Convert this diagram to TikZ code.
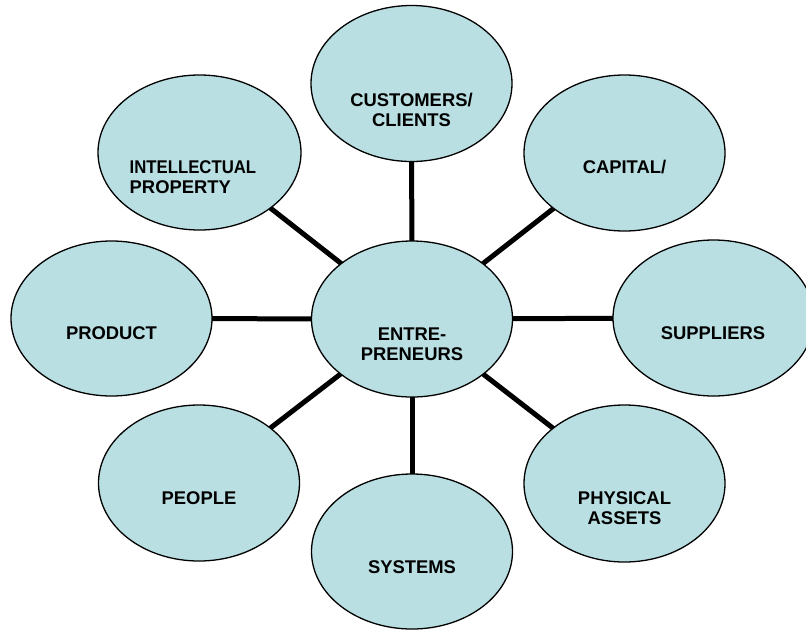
\documentclass[tikz,border=0pt]{standalone}
\usepackage{fontspec}
\setmainfont{Liberation Sans}
\usetikzlibrary{shapes.geometric,backgrounds}
\definecolor{bubblefill}{RGB}{185,223,227}
\begin{document}
\begin{tikzpicture}[x=1pt,y=-1pt,
  bubble/.style={ellipse,draw=black,line width=1.3pt,fill=bubblefill,
    minimum width=201pt,minimum height=156pt,inner sep=0pt},
  caption/.style={font=\bfseries\fontsize{18.4}{20}\selectfont,
    align=center,inner sep=0pt,anchor=north},
  spoke/.style={line width=5pt}]
\useasboundingbox (0,0) rectangle (806,630);
\clip (0,0) rectangle (806,630);

% the hub and the eight bubbles around it
\node[bubble] (hub)  at (412,319)   {};
\node[bubble] (cust) at (411.5,83.5) {};
\node[bubble,minimum width=203pt,minimum height=155pt] (ip) at (199.5,152.5) {};
\node[bubble] (cap)  at (624.5,153) {};
\node[bubble,minimum height=155pt] (prod) at (111.5,318.5) {};
\node[bubble] (sup)  at (713.5,318) {};
\node[bubble] (peop) at (199,483)   {};
\node[bubble,minimum height=155pt] (sys) at (412,551.5) {};
\node[bubble,minimum height=157pt] (phys) at (624.5,483.5) {};

% spokes from the hub, kept behind the bubbles
\begin{pgfonlayer}{background}
  \foreach \t in {cust,ip,cap,prod,sup,peop,sys,phys}
    \draw[spoke] (hub.center) -- (\t.center);
\end{pgfonlayer}

% labels
\node[caption] (hubtxt)  at (412,327.4)   {ENTRE-\\PRENEURS};
\node[caption] (custtxt) at (411.5,93.4)  {CUSTOMERS/\\CLIENTS};
\node[caption,align=left,anchor=north west] (iptxt) at (129.5,160.4)
  {\scalebox{0.91}[1]{INTELLECTUAL}\\PROPERTY};
\node[caption] (captxt)  at (624.5,160.4) {CAPITAL/};
\node[caption] (prodtxt) at (111.5,326.4) {PRODUCT};
\node[caption] (suptxt)  at (713,326.4)   {SUPPLIERS};
\node[caption] (peoptxt) at (199,491.4)   {PEOPLE};
\node[caption] (systxt)  at (412,560.4)   {SYSTEMS};
\node[caption] (phystxt) at (624.5,491.4) {PHYSICAL\\ASSETS};
\end{tikzpicture}
\end{document}
